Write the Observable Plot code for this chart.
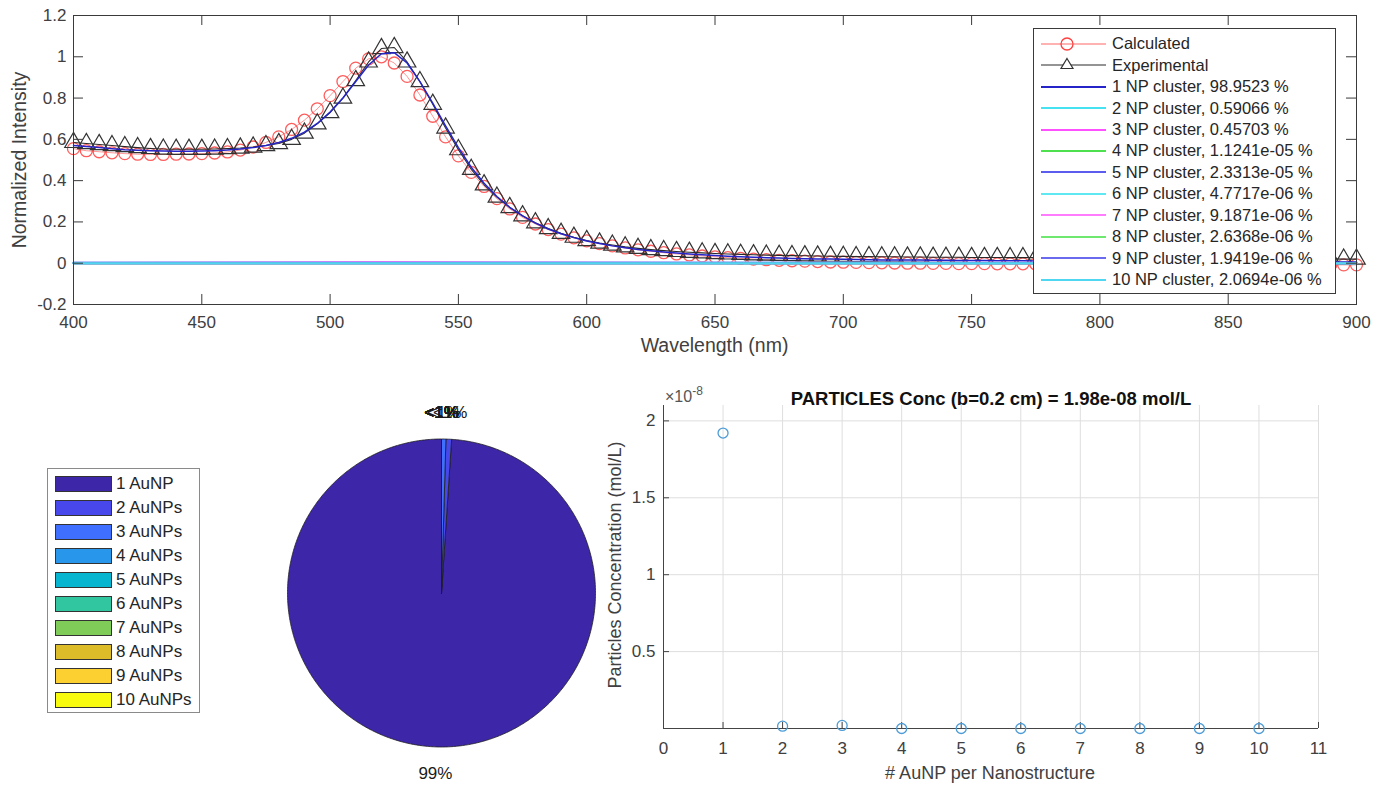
<!DOCTYPE html>
<html><head><meta charset="utf-8">
<script src="https://cdn.jsdelivr.net/npm/d3@7"></script>
<script src="https://cdn.jsdelivr.net/npm/@observablehq/plot@0.6"></script>
<style>
body{margin:0;background:#fff;}
#fig{position:relative;width:1387px;height:787px;overflow:hidden;font-family:"Liberation Sans",Arial,sans-serif;color:#404040;background:#fff;}
.abs{position:absolute;}
.lbl{position:absolute;transform:translate(-50%,-50%);white-space:nowrap;}
.rot{position:absolute;transform:translate(-50%,-50%) rotate(-90deg);white-space:nowrap;}
.legbox{position:absolute;border:1px solid #3a3a3a;background:#fff;box-sizing:border-box;}
.row{position:absolute;left:0;display:flex;align-items:center;white-space:nowrap;}
</style></head><body><div id="fig">
<div id="top" class="abs" style="left:0;top:0"></div>
<div id="pie" class="abs" style="left:251px;top:393px"></div>
<div id="scat" class="abs" style="left:600px;top:380px"></div>
</div>
<script>
// ---------------- DATA ----------------
const wavelength = [400,405,410,415,420,425,430,435,440,445,
450,455,460,465,470,475,480,485,490,495,
500,505,510,515,520,525,530,535,540,545,
550,555,560,565,570,575,580,585,590,595,
600,605,610,615,620,625,630,635,640,645,
650,655,660,665,670,675,680,685,690,695,
700,705,710,715,720,725,730,735,740,745,
750,755,760,765,770,775,780,785,790,795,
800,805,810,815,820,825,830,835,840,845,
850,855,860,865,870,875,880,885,890,895,
900];

const experimental = [0.585,0.580,0.575,0.570,0.565,0.560,0.556,0.553,0.552,0.552,
0.552,0.553,0.555,0.558,0.563,0.570,0.580,0.600,0.630,0.675,
0.730,0.800,0.885,0.975,1.040,1.045,0.975,0.880,0.770,0.655,
0.550,0.455,0.380,0.320,0.270,0.230,0.196,0.168,0.145,0.126,
0.110,0.098,0.088,0.079,0.072,0.066,0.061,0.057,0.053,0.050,
0.047,0.045,0.043,0.041,0.039,0.038,0.037,0.036,0.035,0.034,
0.033,0.032,0.032,0.031,0.031,0.030,0.030,0.029,0.029,0.029,
0.028,0.028,0.028,0.027,0.027,0.027,0.027,0.026,0.026,0.026,
0.026,0.026,0.025,0.025,0.025,0.025,0.024,0.024,0.024,0.024,
0.023,0.023,0.023,0.022,0.022,0.022,0.021,0.021,0.021,0.020,
0.020];

const calculated = [0.555,0.545,0.540,0.535,0.531,0.528,0.527,0.527,0.528,0.529,
0.531,0.534,0.539,0.548,0.563,0.585,0.612,0.648,0.693,0.748,
0.812,0.880,0.945,0.990,1.000,0.970,0.905,0.815,0.712,0.612,
0.520,0.440,0.372,0.313,0.263,0.222,0.190,0.163,0.141,0.123,
0.108,0.095,0.084,0.074,0.065,0.058,0.051,0.045,0.040,0.035,
0.031,0.027,0.023,0.020,0.017,0.014,0.012,0.010,0.008,0.006,
0.005,0.004,0.003,0.002,0.001,0.000,0.000,-0.001,-0.001,-0.002,
-0.002,-0.002,-0.003,-0.003,-0.003,-0.004,-0.004,-0.004,-0.004,-0.005,
-0.005,-0.005,-0.005,-0.005,-0.006,-0.006,-0.006,-0.006,-0.006,-0.006,
-0.007,-0.007,-0.007,-0.007,-0.007,-0.007,-0.008,-0.008,-0.008,-0.008,
-0.008];

const cluster1 = [0.570,0.565,0.560,0.555,0.550,0.547,0.545,0.543,0.542,0.542,
0.543,0.545,0.548,0.553,0.560,0.570,0.585,0.605,0.635,0.677,
0.732,0.800,0.880,0.960,1.015,1.020,0.970,0.880,0.775,0.665,
0.560,0.465,0.387,0.323,0.271,0.229,0.194,0.166,0.143,0.124,
0.108,0.095,0.084,0.075,0.067,0.060,0.054,0.049,0.045,0.041,
0.037,0.034,0.031,0.029,0.027,0.025,0.023,0.022,0.021,0.020,
0.019,0.018,0.017,0.016,0.016,0.015,0.015,0.014,0.014,0.013,
0.013,0.013,0.012,0.012,0.012,0.011,0.011,0.011,0.011,0.010,
0.010,0.010,0.010,0.009,0.009,0.009,0.009,0.009,0.008,0.008,
0.008,0.008,0.008,0.007,0.007,0.007,0.007,0.007,0.006,0.006,
0.006];

// minor clusters (2..10 NP) are essentially flat at zero
const minorClusterWl = [400, 520, 900];
const minorClusterValues = [
  [0.0034, 0.0060, 0.0001],
  [0.0026, 0.0046, 0.0001],
  [0, 0, 0], [0, 0, 0], [0, 0, 0], [0, 0, 0], [0, 0, 0], [0, 0, 0], [0, 0, 0]
];

const seriesLabels = ["Calculated", "Experimental",
  "1 NP cluster, 98.9523 %", "2 NP cluster, 0.59066 %", "3 NP cluster, 0.45703 %",
  "4 NP cluster, 1.1241e-05 %", "5 NP cluster, 2.3313e-05 %", "6 NP cluster, 4.7717e-06 %",
  "7 NP cluster, 9.1871e-06 %", "8 NP cluster, 2.6368e-06 %", "9 NP cluster, 1.9419e-06 %",
  "10 NP cluster, 2.0694e-06 %"];
const seriesColors = ["#ff4040", "#2a2a2a",
  "#2424c8", "#45e3f2", "#ff50ff", "#4fe04f", "#5c5cee", "#5ee8f2", "#ff7cff", "#6ee86e", "#6a6aee", "#4fd6f0"];

const xTicksTop = [400, 450, 500, 550, 600, 650, 700, 750, 800, 850, 900];
const yTicksTop = [-0.2, 0, 0.2, 0.4, 0.6, 0.8, 1, 1.2];

const pieLabels = ["1 AuNP", "2 AuNPs", "3 AuNPs", "4 AuNPs", "5 AuNPs", "6 AuNPs", "7 AuNPs", "8 AuNPs", "9 AuNPs", "10 AuNPs"];
const piePercent = [98.9523, 0.59066, 0.45703, 1.1241e-05, 2.3313e-05, 4.7717e-06, 9.1871e-06, 2.6368e-06, 1.9419e-06, 2.0694e-06];
const pieColors = ["#3e26a8", "#4747eb", "#3e6fff", "#2796eb", "#08b5d0", "#31c69f", "#80cc59", "#dcbd29", "#fcd030", "#f9fb0e"];

const npCount = [1, 2, 3, 4, 5, 6, 7, 8, 9, 10];
const particleConc = [1.921e-8, 1.5e-10, 2.0e-10, 0, 0, 0, 0, 0, 0, 0];
const xTicksConc = [0, 1, 2, 3, 4, 5, 6, 7, 8, 9, 10, 11];
const yTicksConc = [0.5e-8, 1e-8, 1.5e-8, 2e-8];
const concTitle = "PARTICLES Conc (b=0.2 cm) = 1.98e-08 mol/L";

// ---------------- TOP PANEL ----------------
const FONT = "'Liberation Sans', Arial, sans-serif";
const spec = wavelength.map((w, i) => ({w, calc: calculated[i], exp: experimental[i], c1: cluster1[i]}));
const minorRows = [];
minorClusterValues.forEach((vals, k) => vals.forEach((v, j) => minorRows.push({w: minorClusterWl[j], v, k: k + 2})));

const fmt1 = d => String(Math.round(d * 10) / 10);
const topPlot = Plot.plot({
  width: 1387, height: 360,
  marginLeft: 73, marginRight: 31, marginTop: 15, marginBottom: 56,
  style: {fontFamily: FONT, fontSize: "17px", color: "#404040", background: "transparent"},
  x: {domain: [400, 900]},
  y: {domain: [-0.2, 1.2]},
  marks: [
    Plot.line(spec, {x: "w", y: "calc", stroke: seriesColors[0], strokeOpacity: 0.55, strokeWidth: 1}),
    Plot.dot(spec, {x: "w", y: "calc", r: 6, stroke: seriesColors[0], strokeWidth: 1.3, strokeOpacity: 0.85}),
    Plot.line(spec, {x: "w", y: "exp", stroke: seriesColors[1], strokeWidth: 1.1}),
    Plot.dot(spec, {x: "w", y: "exp", r: 6.5, symbol: "triangle", stroke: "#333", strokeWidth: 1.2}),
    Plot.line(spec, {x: "w", y: "c1", stroke: seriesColors[2], strokeWidth: 1.5}),
    Plot.line(minorRows, {x: "w", y: "v", z: "k", stroke: d => seriesColors[d.k + 1], strokeWidth: 2}),
    Plot.frame({stroke: "#3a3a3a"}),
    Plot.ruleX(xTicksTop, {x: d => d, y1: -0.2, y2: -0.2, insetTop: -10, stroke: "#3a3a3a"}),
    Plot.ruleX(xTicksTop, {x: d => d, y1: 1.2, y2: 1.2, insetBottom: -10, stroke: "#3a3a3a"}),
    Plot.ruleY(yTicksTop, {y: d => d, x1: 400, x2: 400, insetRight: -10, stroke: "#3a3a3a"}),
    Plot.ruleY(yTicksTop, {y: d => d, x1: 900, x2: 900, insetLeft: -10, stroke: "#3a3a3a"}),
    Plot.axisX(xTicksTop, {tickSize: 0, tickPadding: 11, label: null, tickFormat: d => String(d)}),
    Plot.axisY(yTicksTop, {tickSize: 0, tickPadding: 7, label: null, tickFormat: fmt1})
  ]
});
document.getElementById("top").appendChild(topPlot);

const fig = document.getElementById("fig");
function addText(cls, x, y, txt, size, extra = "") {
  const d = document.createElement("div");
  d.className = cls;
  d.style.left = x + "px"; d.style.top = y + "px";
  d.style.fontSize = size + "px";
  d.style.cssText += extra;
  d.innerHTML = txt;
  fig.appendChild(d);
  return d;
}
addText("lbl", 714.5, 345, "Wavelength (nm)", 19.5);
addText("rot", 18.5, 159.5, "Normalized Intensity", 19.5);

// top legend
(function () {
  const box = document.createElement("div");
  box.className = "legbox";
  Object.assign(box.style, {left: "1033px", top: "28px", width: "303px", height: "266px"});
  seriesLabels.forEach((lab, i) => {
    const row = document.createElement("div");
    row.className = "row";
    row.style.top = (14.7 + i * 21.45 - 10) + "px";
    row.style.height = "20px";
    let marker = "";
    if (i === 0) marker = `<circle cx="33" cy="10" r="6" fill="none" stroke="${seriesColors[0]}" stroke-width="1.3"/>`;
    if (i === 1) marker = `<path d="M33,3.5 L39,13.5 L27,13.5 Z" fill="#fff" stroke="#333" stroke-width="1.2"/>`;
    const sw = i >= 2 ? 2 : 1.2;
    row.innerHTML = `<svg width="76" height="20" style="display:block"><line x1="7" x2="72" y1="10" y2="10" stroke="${seriesColors[i]}" stroke-width="${sw}" ${i===0?'stroke-opacity="0.8"':''}/>${marker}</svg><span style="font-size:16.5px;color:#262626;margin-left:2px">${lab}</span>`;
    box.appendChild(row);
  });
  fig.appendChild(box);
})();

// ---------------- PIE ----------------
const R = 154;
const pieW = 380, pieH = 394, cxp = 190, cyp = 199.5;
const arcs = d3.pie().sort(null).startAngle(0).endAngle(-2 * Math.PI)(piePercent);
const piePts = [];
arcs.forEach((a, s) => {
  const a0 = a.startAngle, a1 = a.endAngle;
  const n = Math.max(2, Math.ceil(Math.abs(a1 - a0) / 0.01));
  piePts.push({x: 0, y: 0, s});
  for (let j = 0; j <= n; j++) {
    const t = a0 + (a1 - a0) * j / n;
    piePts.push({x: Math.sin(t), y: Math.cos(t), s});
  }
  piePts.push({x: 0, y: 0, s});
});
const pieText = arcs.map((a, s) => {
  const mid = (a.startAngle + a.endAngle) / 2;
  const p = Math.round(piePercent[s]);
  return {x: 1.2 * Math.sin(mid), y: 1.17 * Math.cos(mid), t: piePercent[s] < 1 ? "<1%" : p + "%"};
});
const piePlot = Plot.plot({
  width: pieW, height: pieH, margin: 0,
  style: {fontFamily: FONT, background: "transparent"},
  x: {domain: [-cxp / R, (pieW - cxp) / R], axis: null},
  y: {domain: [-(pieH - cyp) / R, cyp / R], axis: null},
  marks: [
    Plot.line(piePts, {x: "x", y: "y", z: "s", fill: d => pieColors[d.s], stroke: "#1e1e1e", strokeWidth: 0.8, curve: "linear"}),
    Plot.text(pieText, {x: "x", y: "y", text: "t", fontSize: 17, fill: "#1a1a1a"})
  ]
});
document.getElementById("pie").appendChild(piePlot);

// pie legend
(function () {
  const box = document.createElement("div");
  box.className = "legbox";
  Object.assign(box.style, {left: "47px", top: "468px", width: "153px", height: "245px", borderColor: "#8a8a8a"});
  pieLabels.forEach((lab, i) => {
    const row = document.createElement("div");
    row.className = "row";
    row.style.top = (15.3 + i * 23.97 - 9) + "px";
    row.style.left = "7px";
    row.style.height = "18px";
    row.innerHTML = `<span style="display:inline-block;width:57px;height:16px;background:${pieColors[i]};border:1px solid #333;box-sizing:border-box"></span><span style="font-size:17px;color:#262626;margin-left:4px">${lab}</span>`;
    box.appendChild(row);
  });
  fig.appendChild(box);
})();

// ---------------- SCATTER ----------------
const concRows = npCount.map((n, i) => ({n, c: particleConc[i]}));
const scatPlot = Plot.plot({
  width: 787, height: 407,
  marginLeft: 63, marginRight: 69, marginTop: 25, marginBottom: 59,
  style: {fontFamily: FONT, fontSize: "17px", color: "#404040", background: "transparent"},
  x: {domain: [0, 11]},
  y: {domain: [0, 2.1e-8]},
  marks: [
    Plot.gridX(xTicksConc, {stroke: "#dedede", strokeOpacity: 1}),
    Plot.gridY(yTicksConc, {stroke: "#dedede", strokeOpacity: 1}),
    Plot.ruleX([0], {stroke: "#444"}),
    Plot.ruleY([0], {stroke: "#444"}),
    Plot.ruleX(xTicksConc, {x: d => d, y1: 0, y2: 0, insetTop: -6, stroke: "#444"}),
    Plot.ruleY(yTicksConc, {y: d => d, x1: 0, x2: 0, insetRight: -6, stroke: "#444"}),
    Plot.dot(concRows, {x: "n", y: "c", r: 5, stroke: "#4e9cd6", strokeWidth: 1.3}),
    Plot.axisX(xTicksConc, {tickSize: 0, tickPadding: 13, label: null, tickFormat: d => String(d)}),
    Plot.axisY(yTicksConc, {tickSize: 0, tickPadding: 8, label: null, tickFormat: d => String(Math.round(d / 1e-9) / 10)}),
    Plot.text([concTitle], {text: d => d, frameAnchor: "top", dy: -14, fontWeight: "bold", fontSize: 18.5, fill: "#111"})
  ]
});
document.getElementById("scat").appendChild(scatPlot);

addText("abs", 665, 383, "×10<sup style='font-size:12px;vertical-align:7px'>-8</sup>", 16, "color:#555;line-height:16px;");
addText("rot", 615, 565, "Particles Concentration (mol/L)", 18);
addText("lbl", 990, 773, "# AuNP per Nanostructure", 18);
</script>
</body></html>
